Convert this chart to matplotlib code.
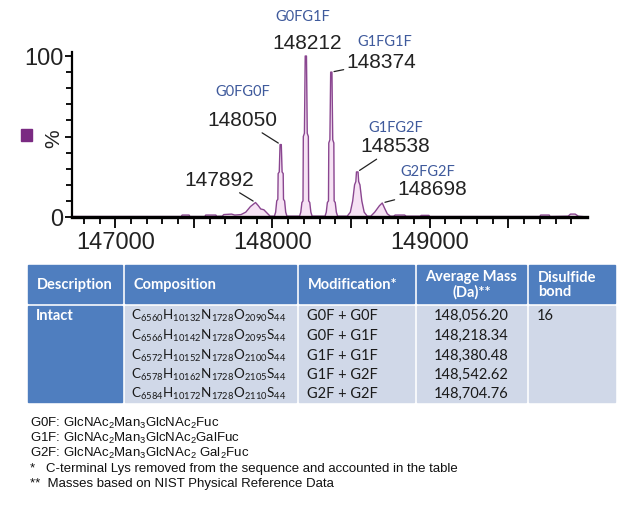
import matplotlib.pyplot as plt
from matplotlib.patches import Rectangle

# deconvoluted spectrum trace (Da, % of base peak)
mass = [146725, 147420, 147425, 147470, 147475, 147570, 147575, 147640, 147645,
        147680, 147690, 147740, 147760, 147800, 147830, 147860, 147892, 147910,
        147925, 147945, 147960, 147985,
        148012, 148020, 148027, 148034, 148036, 148043, 148048, 148056, 148061,
        148068, 148070, 148077, 148084, 148092,
        148172, 148180, 148187, 148194, 148196, 148203, 148208, 148216, 148221,
        148228, 148230, 148237, 148244, 148252,
        148334, 148342, 148349, 148356, 148358, 148365, 148370, 148378, 148383,
        148390, 148392, 148399, 148406, 148414,
        148475, 148495, 148510, 148522, 148530, 148534, 148544, 148548, 148556,
        148568, 148583, 148603,
        148625, 148650, 148680, 148698, 148715, 148730, 148750,
        148770, 148780, 148840, 148850, 148940, 148945, 148995, 149000, 149700,
        149705, 149760, 149765, 149880, 149895, 149925, 149945, 150000]
pct = [0.3, 0.3, 1.2, 1.2, 0.3, 0.3, 1.2, 1.2, 0.4,
       0.5, 1.5, 1.8, 1.2, 1.5, 3, 6.5, 9, 7,
       5, 4.5, 3, 0.5,
       0.5, 3, 10, 11, 27, 28, 45, 45, 28,
       27, 11, 10, 3, 0.5,
       0.5, 3, 9, 10, 50, 52, 100, 100, 52,
       50, 10, 9, 3, 0.5,
       0.5, 3, 9, 10, 46, 48, 90, 90, 48,
       46, 10, 9, 3, 0.5,
       0.5, 3, 10, 20, 22, 28, 28, 22, 20,
       10, 3, 0.5,
       0.5, 3, 7, 8.7, 5, 2, 0.5,
       0.5, 1.2, 1.2, 0.5, 0.5, 1, 1, 0.3, 0.3,
       1.2, 1.2, 0.3, 0.5, 1.8, 1.8, 0.5, 0]

peak_mass = [147892, 148052, 148212, 148374, 148539, 148698]
peak_pct = [9, 45, 100, 90, 28, 8.7]
peak_labels = ['147892', '148050', '148212', '148374', '148538', '148698']
glycoforms = ['', 'G0FG0F', 'G0FG1F', 'G1FG1F', 'G1FG2F', 'G2FG2F']

x_major = [147000, 147500, 148000, 148500, 149000, 149500]
x_labels = ['147000', '', '148000', '', '149000', '']
y_major = [0, 50, 100]
y_labels = ['0', '%', '100']

header = ['Description', 'Composition', 'Modification*', 'Average Mass\n(Da)**', 'Disulfide\nbond']
description = 'Intact'
compositions = [(6560, 10132, 1728, 2090, 44),
                (6566, 10142, 1728, 2095, 44),
                (6572, 10152, 1728, 2100, 44),
                (6578, 10162, 1728, 2105, 44),
                (6584, 10172, 1728, 2110, 44)]
modifications = ['G0F + G0F', 'G0F + G1F', 'G1F + G1F', 'G1F + G2F', 'G2F + G2F']
avg_mass = ['148,056.20', '148,218.34', '148,380.48', '148,542.62', '148,704.76']
disulfide = '16'
footnotes = [r'G0F: GlcNAc$\mathregular{_2}$Man$\mathregular{_3}$GlcNAc$\mathregular{_2}$Fuc',
             r'G1F: GlcNAc$\mathregular{_2}$Man$\mathregular{_3}$GlcNAc$\mathregular{_2}$GalFuc',
             r'G2F: GlcNAc$\mathregular{_2}$Man$\mathregular{_3}$GlcNAc$\mathregular{_2}$ Gal$\mathregular{_2}$Fuc',
             '*   C-terminal Lys removed from the sequence and accounted in the table',
             '**  Masses based on NIST Physical Reference Data']

purple = '#7a2a82'
trace = '#8a4690'
name_blue = '#3f5a9c'
hdr_blue = '#4f7ebf'
cell_blue = '#d0d8e8'

fig = plt.figure(figsize=(6.4, 5.12), dpi=100)

# ---- spectrum ----
ax = fig.add_axes([72 / 640, 1 - 217 / 512, 515 / 640, 165 / 512])
ax.fill_between(mass, pct, color='#f6e2f4', lw=0)
ax.plot(mass, pct, color=trace, lw=1.0)
ax.set_xlim(146725, 150000)
ax.set_ylim(0, 102.5)

ax.spines[['top', 'right']].set_visible(False)
ax.spines['bottom'].set_linewidth(2.4)
ax.spines['left'].set_linewidth(1.6)
ax.set_xticks(x_major)
ax.set_xticklabels(x_labels)
ax.set_xticks(range(146800, 150000, 100), minor=True)
ax.set_yticks(y_major)
ax.set_yticklabels(y_labels)
ax.set_yticks(range(0, 101, 10), minor=True)
ax.tick_params(axis='x', which='major', length=8, width=1.3, pad=3)
ax.tick_params(axis='x', which='minor', length=5, width=1.3)
ax.tick_params(axis='y', which='major', length=5, width=1.3, pad=1)
ax.tick_params(axis='y', which='minor', length=4, width=1.3)
for lab in ax.get_xticklabels() + ax.get_yticklabels():
    lab.set_fontfamily('Liberation Sans')
    lab.set_fontsize(17)
    lab.set_color('#222222')
ax.get_yticklabels()[1].set_rotation(90)
ax.get_yticklabels()[1].set_fontsize(15)

num_offset = [(-36, 22), (-38, 24), (1, 13), (50, 10), (38, 25), (50, 13)]
name_offset = [(0, 0), (-38, 53), (-3, 39), (53, 30), (38, 44), (45, 31)]
for i in range(len(peak_mass)):
    arrow = None if i == 2 else dict(arrowstyle='-', color='#222222', lw=0.9, shrinkA=0, shrinkB=2)
    ax.annotate(peak_labels[i], xy=(peak_mass[i], peak_pct[i]), xytext=num_offset[i],
                textcoords='offset pixels', ha='center', va='center', fontsize=15,
                family='Liberation Sans', color='#222222', arrowprops=arrow,
                annotation_clip=False)
    if glycoforms[i]:
        ax.annotate(glycoforms[i], xy=(peak_mass[i], peak_pct[i]), xytext=name_offset[i],
                    textcoords='offset pixels', ha='center', va='center', fontsize=10.5,
                    family='Lato', color=name_blue, annotation_clip=False)

# ---- table and notes, drawn in pixel space ----
ov = fig.add_axes([0, 0, 1, 1], zorder=-1)
ov.set_xlim(0, 640)
ov.set_ylim(512, 0)
ov.axis('off')
ov.add_patch(Rectangle((21, 129), 11, 12, color=purple))

cols = [(28, 122), (125, 296), (299, 414), (417, 526), (529, 615)]
for j, (x0, x1) in enumerate(cols):
    ov.add_patch(Rectangle((x0, 265), x1 - x0, 38, color=hdr_blue))
    ov.add_patch(Rectangle((x0, 306), x1 - x0, 96, color=hdr_blue if j == 0 else cell_blue))
    if j == 3:
        ov.text((x0 + x1) / 2, 285, header[j], ha='center', va='center', color='white',
                family='Lato', fontweight='bold', fontsize=10.5, linespacing=1.05)
    else:
        ov.text(x0 + 9, 285, header[j], ha='left', va='center', color='white',
                family='Lato', fontweight='bold', fontsize=10.5, linespacing=1.05)

row_y = [316, 336, 355.5, 375, 394]
ov.text(36, row_y[0], description, ha='left', va='center', color='white',
        family='Lato', fontweight='bold', fontsize=10.5)
ov.text(537, row_y[0], disulfide, ha='left', va='center', color='#1a1a1a',
        family='Lato', fontsize=10.5)
for k, y in enumerate(row_y):
    c, h, n, o, s = compositions[k]
    formula = r'C$\mathregular{_{%d}}$H$\mathregular{_{%d}}$N$\mathregular{_{%d}}$O$\mathregular{_{%d}}$S$\mathregular{_{%d}}$' % (c, h, n, o, s)
    ov.text(131, y, formula, ha='left', va='center', color='#1a1a1a',
            family='Lato', fontsize=9.7)
    ov.text(307, y, modifications[k], ha='left', va='center', color='#1a1a1a',
            family='Lato', fontsize=10.5)
    ov.text(471.5, y, avg_mass[k], ha='center', va='center', color='#1a1a1a',
            family='Lato', fontsize=10.5)

note_y = [423, 438, 453, 469, 484]
for k, y in enumerate(note_y):
    ov.text(30, y, footnotes[k], ha='left', va='center', color='#111111',
            family='Liberation Sans', fontsize=9.5)

fig.savefig('out.png', dpi=100)
